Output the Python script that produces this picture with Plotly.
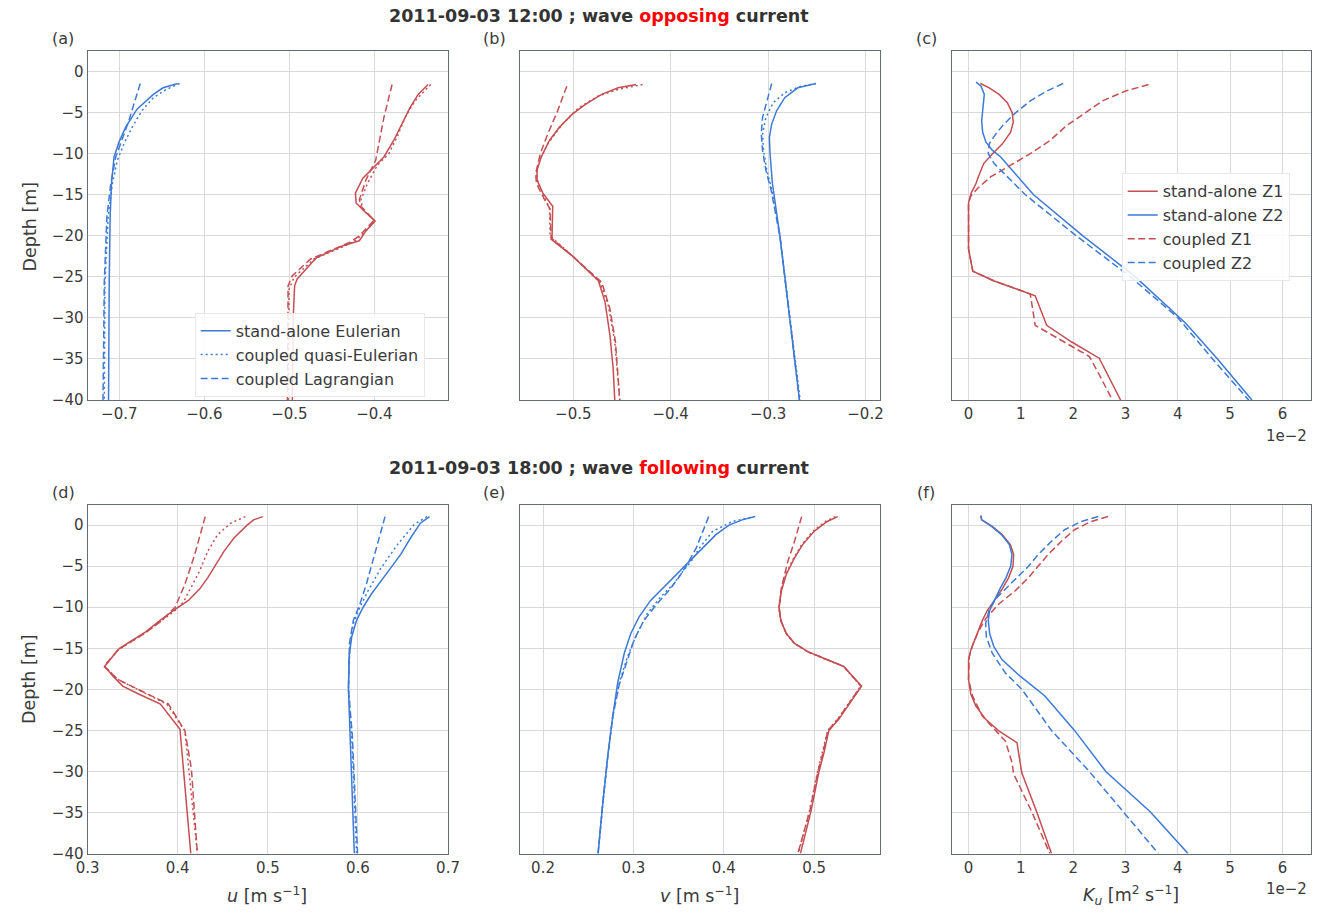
import plotly.graph_objects as go

RED = "#C44E52"
BLUE = "#3D7AD6"

# ---------------- Panel (a): u, opposing ----------------
a_blue_eul_x = [-0.6312, -0.6485, -0.660, -0.6792, -0.6927, -0.7004, -0.7062, -0.7092, -0.7108, -0.7119, -0.7127]
a_blue_eul_z = [-1.45, -1.97, -2.77, -4.58, -6.79, -8.59, -10.4, -13.6, -17.6, -25.7, -40.0]
a_blue_qe_x = [-0.6292, -0.6446, -0.660, -0.6735, -0.685, -0.6946, -0.7023, -0.7081, -0.7131, -0.7169, -0.7177]
a_blue_qe_z = [-1.45, -2.17, -3.17, -4.78, -6.79, -8.8, -10.8, -13.6, -17.6, -25.7, -40.0]
a_blue_lag_x = [-0.6754, -0.6888, -0.6965, -0.7042, -0.710, -0.7146, -0.7177, -0.7192]
a_blue_lag_z = [-1.45, -5.98, -8.19, -10.4, -13.6, -17.6, -25.7, -40.0]

a_red_eul_x = [-0.3369, -0.3485, -0.3581, -0.3677, -0.3773, -0.3888, -0.3985, -0.4138, -0.4223, -0.4215, -0.4119,
               -0.3992, -0.410, -0.4177, -0.4369, -0.4677, -0.4715, -0.4908, -0.4938, -0.4954, -0.4965]
a_red_eul_z = [-1.57, -2.77, -4.38, -6.39, -8.39, -10.4, -11.4, -13.0, -14.8, -16.0, -17.0,
               -18.2, -19.4, -20.6, -21.2, -22.65, -23.05, -25.26, -26.06, -29.7, -40.0]
a_red_qe_x = [-0.3338, -0.3523, -0.3638, -0.3735, -0.3831, -0.3965, -0.4081, -0.4158, -0.4138, -0.3992, -0.4158,
              -0.4254, -0.4715, -0.4946, -0.5004, -0.5015]
a_red_qe_z = [-1.57, -3.57, -5.58, -7.99, -10.0, -11.4, -13.6, -15.6, -16.8, -18.2, -20.0,
              -20.8, -22.85, -25.06, -26.5, -40.0]
a_red_lag_x = [-0.3792, -0.3888, -0.3985, -0.410, -0.4177, -0.4158, -0.4004, -0.4177, -0.4292, -0.4754, -0.4965, -0.5015, -0.5023]
a_red_lag_z = [-1.57, -5.58, -10.8, -13.2, -15.6, -16.4, -18.1, -20.0, -20.8, -22.85, -24.86, -26.06, -40.0]

# ---------------- Panel (b): v, opposing ----------------
b_red_eul_x = [-0.4356, -0.454, -0.4708, -0.4876, -0.501, -0.5144, -0.5245, -0.5329, -0.5372, -0.5372, -0.5312,
               -0.5211, -0.5218, -0.5228, -0.501, -0.4742, -0.4674, -0.4624, -0.4591, -0.4574]
b_red_eul_z = [-1.57, -1.97, -2.77, -3.98, -5.18, -6.79, -8.39, -10.4, -12.0, -13.2, -14.8,
               -16.4, -20.0, -20.4, -22.45, -25.46, -28.07, -32.09, -36.1, -40.0]
b_red_qe_x = [-0.4289, -0.454, -0.4742, -0.4943, -0.5111, -0.5262, -0.5346, -0.5379, -0.5362, -0.5279, -0.5245,
              -0.5238, -0.501, -0.4725, -0.4641, -0.4574, -0.4523]
b_red_qe_z = [-1.57, -2.17, -2.97, -4.38, -6.39, -8.8, -10.8, -12.4, -13.6, -15.6, -16.6,
              -20.0, -22.45, -25.66, -28.47, -32.9, -40.0]
b_red_lag_x = [-0.5067, -0.5161, -0.5262, -0.5339, -0.5386, -0.5379, -0.5295, -0.5238, -0.5228, -0.501, -0.4708,
               -0.4624, -0.4567, -0.4523]
b_red_lag_z = [-1.77, -4.78, -7.59, -10.0, -12.4, -13.6, -15.6, -16.75, -20.24, -22.45, -25.66,
               -28.88, -32.9, -40.0]

b_blue_eul_x = [-0.251, -0.2695, -0.2829, -0.2913, -0.2963, -0.2987, -0.298, -0.2956, -0.2879, -0.2775, -0.2678]
b_blue_eul_z = [-1.45, -1.97, -3.17, -4.78, -6.39, -7.99, -10.0, -13.6, -20.0, -30.0, -40.0]
b_blue_qe_x = [-0.251, -0.2661, -0.2829, -0.2946, -0.3023, -0.3057, -0.3047, -0.3013, -0.2963, -0.2879, -0.2775, -0.2671]
b_blue_qe_z = [-1.45, -1.77, -2.57, -3.78, -5.58, -7.59, -9.6, -12.0, -14.4, -20.0, -30.0, -40.0]
b_blue_lag_x = [-0.2963, -0.3013, -0.3057, -0.307, -0.3057, -0.3023, -0.297, -0.2879, -0.2775, -0.2678]
b_blue_lag_z = [-1.45, -3.57, -5.58, -7.59, -9.6, -12.0, -14.4, -20.0, -30.0, -40.0]

# ---------------- Panel (c): Ku (x 1e-2), opposing ----------------
c_red_sa_x = [0.226, 0.395, 0.584, 0.741, 0.835, 0.854, 0.804, 0.647, 0.458, 0.289, 0.188, 0.144, 0.05, 0.0,
              0.0, 0.0, 0.082, 0.49, 0.93, 1.274, 1.494, 1.965, 2.498, 2.687, 2.906]
c_red_sa_z = [-1.45, -1.97, -2.77, -3.78, -5.02, -6.18, -7.39, -8.8, -10.0, -11.2, -12.8, -13.6, -14.8, -16.0,
              -18.4, -21.6, -24.3, -25.5, -26.5, -27.3, -30.9, -32.9, -34.9, -37.3, -40.0]
c_red_cp_x = [3.44, 3.0, 2.56, 2.185, 1.871, 1.557, 1.18, 0.804, 0.427, 0.176, 0.038, 0.0, 0.0, 0.08,
              0.49, 0.93, 1.18, 1.274, 1.808, 2.31, 2.53, 2.75]
c_red_cp_z = [-1.57, -2.37, -3.57, -5.18, -6.59, -8.39, -10.0, -11.4, -12.8, -14.2, -15.2, -16.0, -21.6, -24.3,
              -25.5, -26.5, -27.1, -30.9, -32.9, -34.7, -37.3, -40.0]
c_blue_sa_x = [0.144, 0.239, 0.301, 0.27, 0.251, 0.27, 0.333, 0.458, 0.615, 1.243, 2.185, 3.189, 4.16, 4.758, 5.417]
c_blue_sa_z = [-1.29, -1.77, -2.77, -4.38, -5.98, -7.39, -8.59, -9.6, -10.4, -15.0, -20.0, -25.0, -30.7, -35.0, -40.0]
c_blue_cp_x = [1.808, 1.494, 1.18, 0.898, 0.678, 0.521, 0.395, 0.377, 0.49, 1.086, 2.059, 3.095, 4.005, 4.664, 5.355]
c_blue_cp_z = [-1.45, -2.37, -3.57, -5.02, -6.39, -7.59, -8.8, -10.0, -11.2, -15.0, -20.0, -25.0, -30.0, -35.0, -40.0]

# ---------------- Panel (d): u, following ----------------
d_red_eul_x = [0.4944, 0.4842, 0.477, 0.4624, 0.4515, 0.4425, 0.4334, 0.4243, 0.4116, 0.4007, 0.3826, 0.3644,
               0.3499, 0.3354, 0.3263, 0.3191, 0.3281, 0.339, 0.3572, 0.3808, 0.4025, 0.4062, 0.4098, 0.4145]
d_red_eul_z = [1.04, 0.64, 0.0, -1.57, -3.17, -4.78, -6.39, -7.79, -9.2, -10.0, -11.4, -13.0,
               -14.0, -15.0, -16.2, -17.2, -18.4, -19.6, -20.6, -21.8, -24.86, -29.7, -33.7, -40.0]
d_red_qe_x = [0.4751, 0.4588, 0.4443, 0.4334, 0.4243, 0.4152, 0.4062, 0.3971, 0.3826, 0.3644, 0.3336, 0.3191,
              0.3336, 0.388, 0.408, 0.4218]
d_red_qe_z = [1.04, 0.24, -1.16, -3.17, -5.58, -7.59, -9.4, -10.4, -11.6, -13.1, -15.2, -17.2,
              -18.8, -21.8, -25.06, -40.0]
d_red_lag_x = [0.4305, 0.4189, 0.408, 0.3971, 0.3826, 0.3644, 0.3336, 0.318, 0.3336, 0.3898, 0.408, 0.4152, 0.4218]
d_red_lag_z = [1.04, -3.57, -7.19, -10.0, -11.6, -13.1, -15.2, -17.2, -18.8, -21.8, -25.06, -29.7, -40.0]

d_blue_eul_x = [0.6795, 0.6693, 0.6584, 0.6475, 0.6367, 0.6258, 0.6149, 0.6058, 0.5985, 0.5931, 0.5902, 0.5895,
                0.5913, 0.5931, 0.596]
d_blue_eul_z = [1.04, 0.24, -1.57, -3.57, -5.18, -6.79, -8.39, -10.0, -11.6, -13.6, -16.0, -20.0,
                -25.66, -31.7, -40.0]
d_blue_qe_x = [0.6766, 0.6621, 0.6439, 0.6258, 0.6113, 0.6022, 0.5949, 0.5913, 0.5895, 0.5931, 0.5985]
d_blue_qe_z = [1.04, 0.04, -2.37, -5.18, -7.99, -10.0, -12.0, -14.4, -20.0, -25.66, -40.0]
d_blue_lag_x = [0.6301, 0.6185, 0.6094, 0.6022, 0.5949, 0.5906, 0.5895, 0.5938, 0.5996]
d_blue_lag_z = [1.04, -3.57, -7.19, -9.6, -11.6, -14.4, -20.0, -25.66, -40.0]

# ---------------- Panel (e): v, following ----------------
e_blue_eul_x = [0.4348, 0.4203, 0.4058, 0.3913, 0.3768, 0.3623, 0.3478, 0.3333, 0.3188, 0.3062, 0.2971, 0.2899,
                0.2826, 0.2772, 0.2717, 0.2663, 0.2609]
e_blue_eul_z = [1.04, 0.64, 0.0, -1.16, -2.77, -4.38, -5.98, -7.59, -9.2, -11.2, -13.2, -15.6,
                -19.2, -23.25, -28.07, -33.7, -40.0]
e_blue_qe_x = [0.4293, 0.4094, 0.3877, 0.3732, 0.3641, 0.3551, 0.3442, 0.3297, 0.3152, 0.3025, 0.2935, 0.2844,
               0.2772, 0.2717, 0.2663, 0.2609]
e_blue_qe_z = [0.92, 0.44, -0.76, -2.77, -4.38, -5.58, -7.19, -8.8, -10.8, -13.6, -16.0, -19.2,
               -23.25, -28.07, -33.7, -40.0]
e_blue_lag_x = [0.3833, 0.3696, 0.3605, 0.3514, 0.3406, 0.3261, 0.3116, 0.3007, 0.2935, 0.2844, 0.2772, 0.2717,
                0.2663, 0.2609]
e_blue_lag_z = [1.04, -2.77, -4.58, -6.18, -7.79, -9.6, -11.6, -14.0, -16.4, -19.4, -23.25, -28.07, -33.7, -40.0]

e_red_eul_x = [0.5261, 0.5145, 0.500, 0.4873, 0.4783, 0.4692, 0.4638, 0.4612, 0.4631, 0.4692, 0.4783, 0.4928,
               0.5145, 0.5326, 0.5525, 0.5399, 0.5272, 0.5163, 0.5109, 0.5054, 0.4964, 0.4848]
e_red_eul_z = [1.04, 0.44, -0.76, -2.37, -3.98, -5.98, -7.99, -10.0, -11.6, -13.2, -14.4, -15.4,
               -16.4, -17.2, -19.6, -21.6, -23.65, -25.0, -27.7, -30.0, -34.9, -40.0]
e_red_qe_x = [0.5236, 0.5125, 0.4985, 0.4862, 0.4775, 0.4688, 0.4634, 0.4608, 0.4627, 0.4688, 0.4779, 0.4924,
              0.5141, 0.5322, 0.5515, 0.5385, 0.5258, 0.5150, 0.5094, 0.5038, 0.4946, 0.4826]
e_red_qe_z = e_red_eul_z
e_red_lag_x = [0.4862, 0.4783, 0.471, 0.4638, 0.4612, 0.4631, 0.4692, 0.4783, 0.4928, 0.5145, 0.5326, 0.5520,
               0.5390, 0.5262, 0.5153, 0.5098, 0.5042, 0.4950, 0.4819]
e_red_lag_z = [1.04, -1.97, -4.38, -7.59, -10.0, -11.6, -13.2, -14.4, -15.4, -16.4, -17.2, -19.6,
               -21.6, -23.65, -25.0, -27.7, -30.0, -34.9, -40.0]

# ---------------- Panel (f): Ku (x 1e-2), following ----------------
f_red_sa_x = [0.233, 0.252, 0.453, 0.642, 0.799, 0.862, 0.849, 0.767, 0.642, 0.484, 0.358, 0.264, 0.138, 0.044,
              0.0, 0.0, 0.044, 0.138, 0.327, 0.579, 0.925, 1.019, 1.302, 1.585]
f_red_sa_z = [1.16, 0.64, -0.16, -1.16, -2.37, -3.57, -5.02, -6.39, -7.79, -9.2, -10.4, -11.6, -13.6, -15.2,
              -16.4, -18.8, -20.6, -22.0, -23.65, -25.06, -26.5, -30.2, -34.9, -40.0]
f_red_cp_x = [2.667, 2.34, 2.025, 1.774, 1.522, 1.333, 1.145, 0.893, 0.579, 0.327, 0.201, 0.088, 0.013, 0.0,
              0.075, 0.264, 0.704, 0.83, 0.862, 1.208, 1.553]
f_red_cp_z = [1.04, 0.44, -0.56, -1.97, -3.57, -5.02, -6.39, -7.99, -9.6, -11.4, -12.8, -14.4, -16.0, -18.8,
              -20.8, -23.25, -26.3, -28.9, -30.3, -34.9, -40.0]
f_blue_sa_x = [0.233, 0.252, 0.44, 0.629, 0.78, 0.83, 0.805, 0.717, 0.597, 0.484, 0.403, 0.377, 0.403, 0.484,
               0.642, 0.987, 1.459, 2.025, 2.623, 3.472, 4.195]
f_blue_sa_z = [1.16, 0.64, -0.16, -1.16, -2.37, -3.57, -5.02, -6.39, -7.79, -9.2, -10.4, -11.6, -13.2, -14.8,
               -16.4, -18.4, -20.8, -25.0, -30.0, -34.9, -40.0]
f_blue_cp_x = [2.478, 2.151, 1.836, 1.585, 1.333, 1.145, 0.925, 0.736, 0.516, 0.39, 0.327, 0.34, 0.453, 0.704,
               1.019, 1.585, 2.308, 2.969, 3.629]
f_blue_cp_z = [1.04, 0.44, -0.56, -1.97, -3.57, -5.02, -6.39, -7.59, -8.99, -10.4, -12.0, -13.6, -15.6, -18.0,
               -20.0, -25.0, -30.0, -35.0, -40.0]

# ---------------- Ticks / labels ----------------
depth_ticks = [0, -5, -10, -15, -20, -25, -30, -35, -40]
a_ticks = [-0.7, -0.6, -0.5, -0.4]
b_ticks = [-0.5, -0.4, -0.3, -0.2]
k_ticks = [0, 1, 2, 3, 4, 5, 6]
d_ticks = [0.3, 0.4, 0.5, 0.6, 0.7]
e_ticks = [0.2, 0.3, 0.4, 0.5]
panel_letters = ["(a)", "(b)", "(c)", "(d)", "(e)", "(f)"]
legend_a_names = ["stand-alone Eulerian", "coupled quasi-Eulerian", "coupled Lagrangian"]
legend_c_names = ["stand-alone Z1", "stand-alone Z2", "coupled Z1", "coupled Z2"]

W, H = 1336, 920
FONT = "DejaVu Sans"
TXT = "#3a3a3a"
SOLID, DOT, DASH = "solid", "2px,3px", "7px,3.5px"

fig = go.Figure()


def add(x, z, color, dash, idx, name=None, legend=None, rank=None):
    ax = "" if idx == 1 else str(idx)
    fig.add_trace(go.Scatter(
        x=x, y=z, mode="lines", xaxis="x" + ax, yaxis="y" + ax,
        line=dict(color=color, width=1.5, dash=dash),
        name=name if name else "", showlegend=name is not None,
        legend=legend if legend else "legend",
        legendrank=rank if rank else 1000,
        hoverinfo="skip"))


# (a)
add(a_blue_eul_x, a_blue_eul_z, BLUE, SOLID, 1, legend_a_names[0], "legend", 1)
add(a_blue_qe_x, a_blue_qe_z, BLUE, DOT, 1, legend_a_names[1], "legend", 2)
add(a_blue_lag_x, a_blue_lag_z, BLUE, DASH, 1, legend_a_names[2], "legend", 3)
add(a_red_eul_x, a_red_eul_z, RED, SOLID, 1)
add(a_red_qe_x, a_red_qe_z, RED, DOT, 1)
add(a_red_lag_x, a_red_lag_z, RED, DASH, 1)
# (b)
add(b_red_eul_x, b_red_eul_z, RED, SOLID, 2)
add(b_red_qe_x, b_red_qe_z, RED, DOT, 2)
add(b_red_lag_x, b_red_lag_z, RED, DASH, 2)
add(b_blue_eul_x, b_blue_eul_z, BLUE, SOLID, 2)
add(b_blue_qe_x, b_blue_qe_z, BLUE, DOT, 2)
add(b_blue_lag_x, b_blue_lag_z, BLUE, DASH, 2)
# (c)
add(c_red_sa_x, c_red_sa_z, RED, SOLID, 3, legend_c_names[0], "legend2", 1)
add(c_blue_sa_x, c_blue_sa_z, BLUE, SOLID, 3, legend_c_names[1], "legend2", 2)
add(c_red_cp_x, c_red_cp_z, RED, DASH, 3, legend_c_names[2], "legend2", 3)
add(c_blue_cp_x, c_blue_cp_z, BLUE, DASH, 3, legend_c_names[3], "legend2", 4)
# (d)
add(d_red_eul_x, d_red_eul_z, RED, SOLID, 4)
add(d_red_qe_x, d_red_qe_z, RED, DOT, 4)
add(d_red_lag_x, d_red_lag_z, RED, DASH, 4)
add(d_blue_eul_x, d_blue_eul_z, BLUE, SOLID, 4)
add(d_blue_qe_x, d_blue_qe_z, BLUE, DOT, 4)
add(d_blue_lag_x, d_blue_lag_z, BLUE, DASH, 4)
# (e)
add(e_blue_eul_x, e_blue_eul_z, BLUE, SOLID, 5)
add(e_blue_qe_x, e_blue_qe_z, BLUE, DOT, 5)
add(e_blue_lag_x, e_blue_lag_z, BLUE, DASH, 5)
add(e_red_eul_x, e_red_eul_z, RED, SOLID, 5)
add(e_red_qe_x, e_red_qe_z, RED, DOT, 5)
add(e_red_lag_x, e_red_lag_z, RED, DASH, 5)
# (f)
add(f_red_sa_x, f_red_sa_z, RED, SOLID, 6)
add(f_blue_sa_x, f_blue_sa_z, BLUE, SOLID, 6)
add(f_red_cp_x, f_red_cp_z, RED, DASH, 6)
add(f_blue_cp_x, f_blue_cp_z, BLUE, DASH, 6)

# geometry in pixels
cols = [(77, 444), (517, 884), (957, 1323)]
rows = [(52, 404), (510, 862)]
xranges = [[-0.7373, -0.3134], [-0.555, -0.185], [-0.32, 6.55],
           [0.3, 0.7], [0.1742, 0.573], [-0.32, 6.55]]
xticks = [a_ticks, b_ticks, k_ticks, d_ticks, e_ticks, k_ticks]
yrange = [-40, 2.45]

axis_common = dict(showgrid=True, gridcolor="#d9d9d9", gridwidth=1.2, zeroline=False,
                   showline=True, linecolor="#646b78", linewidth=1.2, mirror=True,
                   ticks="", tickfont=dict(family=FONT, size=15, color=TXT))

layout = dict(width=W, height=H, margin=dict(l=0, r=0, t=0, b=0),
              plot_bgcolor="white", paper_bgcolor="white",
              font=dict(family=FONT, color=TXT))

for i in range(6):
    r, c = divmod(i, 3)
    ax = "" if i == 0 else str(i + 1)
    x0, x1 = cols[c]
    y0, y1 = rows[r]
    layout["xaxis" + ax] = dict(axis_common, domain=[x0 / W, x1 / W], range=xranges[i],
                                anchor="y" + ax, tickvals=xticks[i],
                                ticktext=[("%g" % t).replace("-", "\u2212") for t in xticks[i]])
    layout["yaxis" + ax] = dict(axis_common, domain=[1 - y1 / H, 1 - y0 / H], range=yrange,
                                anchor="x" + ax, tickvals=depth_ticks,
                                ticktext=[("%g" % t).replace("-", "\u2212") for t in depth_ticks],
                                showticklabels=(c == 0))

layout["legend"] = dict(x=186 / W, y=1 - 316 / H, xanchor="left", yanchor="top",
                        bgcolor="rgba(255,255,255,0.85)", bordercolor="#e8e8e8", borderwidth=1,
                        font=dict(family=FONT, size=16, color=TXT), tracegroupgap=0)
layout["legend2"] = dict(x=1130 / W, y=1 - 175 / H, xanchor="left", yanchor="top",
                         bgcolor="rgba(255,255,255,0.85)", bordercolor="#e8e8e8", borderwidth=1,
                         font=dict(family=FONT, size=16, color=TXT), tracegroupgap=0)

ann = []


def text(x, y, s, size=16, **kw):
    d = dict(x=x / W, y=1 - y / H, xref="paper", yref="paper", text=s, showarrow=False,
             font=dict(family=FONT, size=size, color=kw.pop("color", TXT)),
             xanchor=kw.pop("xanchor", "center"), yanchor=kw.pop("yanchor", "middle"))
    d.update(kw)
    ann.append(d)


text(598, 16, "<b>2011-09-03 12:00 ; wave <span style='color:#ff0000'>opposing</span> current</b>", 17.5,
     color="#333333")
text(598, 473, "<b>2011-09-03 18:00 ; wave <span style='color:#ff0000'>following</span> current</b>", 17.5,
     color="#333333")
for i, lab in enumerate(panel_letters):
    r, c = divmod(i, 3)
    text([52, 491, 931][c], [39, 497][r], lab, 16)
text(18, 229, "Depth [m]", 17.5, textangle=-90)
text(18, 686, "Depth [m]", 17.5, textangle=-90)
text(260, 904, "<i>u</i> [m s<sup>\u22121</sup>]", 17.5)
text(700, 904, "<i>v</i> [m s<sup>\u22121</sup>]", 17.5)
text(1139, 904, "<i>K<sub>u</sub></i> [m<sup>2</sup> s<sup>\u22121</sup>]", 17.5)
text(1321, 440, "1e\u22122", 15, xanchor="right")
text(1321, 898, "1e\u22122", 15, xanchor="right")
layout["annotations"] = ann

fig.update_layout(**layout)
fig.write_html(
    "out.html",
    config={"displayModeBar": False},
    post_script=("document.documentElement.style.margin='0';document.body.style.margin='0';"
                 "document.documentElement.style.overflow='hidden';document.body.style.overflow='hidden';"),
)
